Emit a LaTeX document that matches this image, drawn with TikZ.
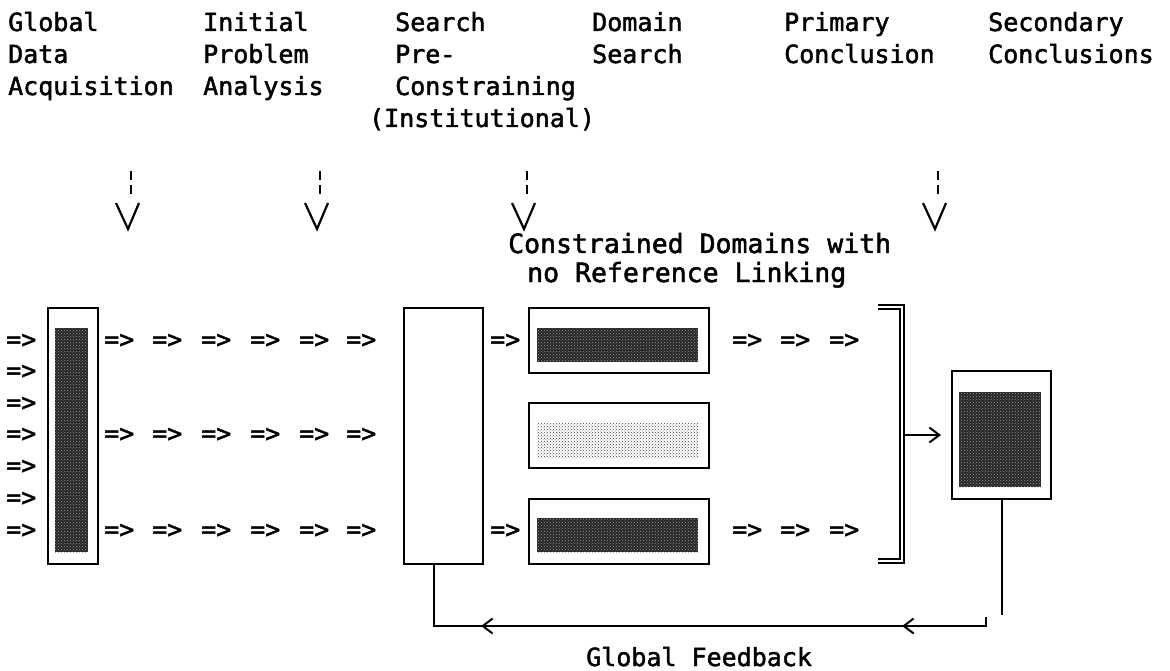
\documentclass[tikz,border=0pt]{standalone}
\usepackage{fontspec}
\setmainfont[FakeBold=1.8]{DejaVu Sans Mono}
\usetikzlibrary{arrows.meta,patterns,decorations.markings}
\begin{document}
\begin{tikzpicture}[x=1pt,y=-1pt,
  hdr/.style={font=\fontsize{25}{32}\selectfont, inner sep=0pt, anchor=base west, align=left},
  lbl/.style={font=\fontsize{25}{32}\selectfont, inner sep=0pt, anchor=base west},
  big/.style={font=\fontsize{26.5}{32}\selectfont, inner sep=0pt, anchor=base west},
  box/.style={draw=black, line width=2.3pt, fill=white, inner sep=0pt, anchor=north west},
  dark/.style={fill=black!85, inner sep=0pt, anchor=north west,
    postaction={pattern=crosshatch dots, pattern color=black!40}},
  light/.style={inner sep=0pt, anchor=north west, pattern=crosshatch dots, pattern color=black!75},
  conn/.style={line width=2pt},
  dbl/.style={double=white, double distance=2.2pt, line width=1.9pt},
  stemline/.style={line width=2.2pt},
]
\useasboundingbox (0,0) rectangle (1170,671);

% header texts (anchored at the baseline of their last line)
\node[hdr] (h1) at (8,95) {Global\\Data\\Acquisition};
\node[hdr] (h2) at (203,95) {Initial\\Problem\\Analysis};
\node[hdr] (h3) at (395,95) {Search\\Pre-\\Constraining};
\node[lbl] (h3b) at (369,127) {(Institutional)};
\node[hdr] (h4) at (592,63) {Domain\\Search};
\node[hdr] (h5) at (784,63) {Primary\\Conclusion};
\node[hdr] (h6) at (988,63) {Secondary\\Conclusions};

% dashed down arrows
\foreach \x in {128,317,524,935}{
  \draw[stemline] (\x+3,171) -- (\x+3,180);
  \draw[stemline] (\x+3,185) -- (\x+3,194);
  \draw[stemline] (\x-12,203) -- (\x,229) -- (\x+11,203);
}

\node[big] (cd1) at (508,253) {Constrained Domains with};
\node[big] (cd2) at (527,282) {no Reference Linking};

% boxes
\node[box, minimum width=50, minimum height=256] (acq) at (47,307) {};
\node[dark, minimum width=33, minimum height=224] (acqin) at (55,328) {};
\node[box, minimum width=79, minimum height=256] (pre) at (403,307) {};
\node[box, minimum width=180, minimum height=65] (d1) at (528,307) {};
\node[dark, minimum width=161, minimum height=34] (d1in) at (537,328) {};
\node[box, minimum width=180, minimum height=65] (d2) at (528,402) {};
\node[light, minimum width=161, minimum height=34] (d2in) at (537,423) {};
\node[box, minimum width=180, minimum height=65] (d3) at (528,498) {};
\node[dark, minimum width=161, minimum height=34] (d3in) at (537,518) {};
\node[box, minimum width=99, minimum height=128] (sec) at (951,370) {};
\node[dark, minimum width=82, minimum height=95] (secin) at (959,392) {};

% => arrows as text
\foreach \y [count=\i] in {341,372,404,435,467,499,531}{
  \node[lbl, anchor=west] (in\i) at (6,\y) {=>};
}
\foreach \y in {341,435,531}{
  \foreach \x in {104,152,201,250,299,346}{
    \node[lbl, anchor=west] at (\x,\y) {=>};
  }
}
\node[lbl, anchor=west] (p1) at (490,341) {=>};
\node[lbl, anchor=west] (p3) at (490,531) {=>};
\foreach \y in {341,531}{
  \foreach \x in {732,780,829}{
    \node[lbl, anchor=west] at (\x,\y) {=>};
  }
}

% bracket
\coordinate (bt) at (878,307);
\coordinate (bb) at (878,561);
\draw[dbl] (bt) -- (902,307) -- (902,561) -- (bb);
\coordinate (bm) at (904,435);
\draw[conn, -{Straight Barb[length=10pt,width=15pt,line width=2pt]}, shorten >=10pt] (bm) -- (sec.west |- bm);

% feedback
\coordinate (fbtop) at (1000,615);
\draw[conn] (sec.south) -- (sec.south |- fbtop);
\coordinate (fbr) at (986,617);
\coordinate (fbl) at (434,626);
\coordinate (prefoot) at (434,563);
\draw[conn, decoration={markings,
    mark=at position 93pt with {\arrow{Straight Barb[length=10pt,width=15pt,line width=2pt]}},
    mark=at position 514pt with {\arrow{Straight Barb[length=10pt,width=15pt,line width=2pt]}}},
  postaction={decorate}]
  (fbr) -- (986,626) -- (fbl) -- (prefoot);

\node[lbl] (gf) at (586,666) {Global Feedback};
\end{tikzpicture}
\end{document}
